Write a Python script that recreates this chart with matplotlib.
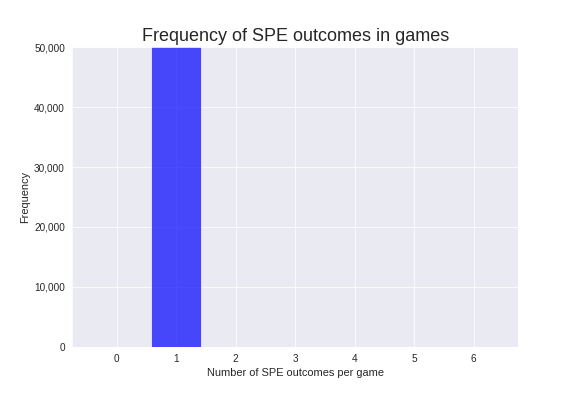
import numpy as np
import matplotlib
matplotlib.use("Agg")
import matplotlib.pyplot as plt
import matplotlib.ticker as mticker
import seaborn as sns

# SPE outcomes per game and how many games had that many
outcomes = [0, 1, 2, 3, 4, 5, 6]
frequency = [0, 100000, 0, 0, 0, 0, 0]

sns.set_style("darkgrid")
plt.rcParams['font.family'] = ['Liberation Sans', 'DejaVu Sans']

fig, ax = plt.subplots(figsize=(8, 5.5), dpi=72)
fig.subplots_adjust(left=0.125, right=0.9, top=0.881, bottom=0.124)

ax.bar(outcomes, frequency, width=0.85, color='blue', alpha=0.7)

ax.set_xlim(-0.75, 6.75)
ax.set_ylim(0, 50000)
ax.set_xticks(outcomes)
ax.yaxis.set_major_formatter(mticker.StrMethodFormatter('{x:,.0f}'))
ax.tick_params(labelsize=10, colors='#262626')

ax.set_title("Frequency of SPE outcomes in games", fontsize=18, color='#262626')
ax.set_xlabel("Number of SPE outcomes per game", fontsize=11, color='#262626')
ax.set_ylabel("Frequency", fontsize=11, color='#262626')

fig.savefig("out.png", dpi=72)
